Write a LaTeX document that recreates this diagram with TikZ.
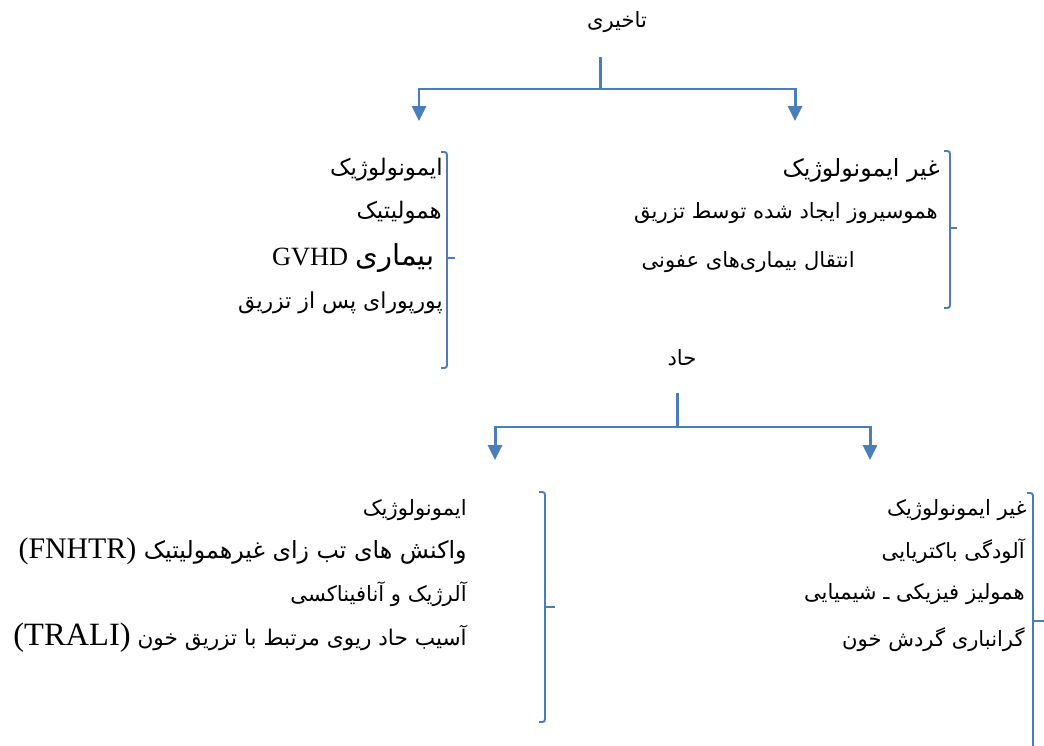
\documentclass[tikz,border=0pt]{standalone}
\usepackage{fontspec}
\setmainfont{Liberation Serif}
\newfontfamily\farsi[Script=Arabic]{DejaVu Sans}
\TeXXeTstate=1
\usetikzlibrary{arrows.meta}
\definecolor{wordblue}{RGB}{74,126,187}
\newcommand{\fatext}[1]{\beginR#1\endR}
\newcommand{\latin}[2][15]{\beginL{\normalfont\fontsize{#1}{#1}\selectfont #2}\endL}
\newcommand{\fasize}[1]{\fontsize{#1}{#1}\selectfont}

\begin{document}
\begin{tikzpicture}[x=0.02cm, y=-0.02cm,
    line/.style={anchor=east, inner sep=0pt, font=\farsi\fontsize{12}{14}\selectfont},
    bigline/.style={line, font=\farsi\fontsize{13}{15}\selectfont},
    head/.style={inner sep=0pt, font=\farsi\fontsize{12}{14}\selectfont},
    tree/.style={wordblue, line width=1.7pt},
    branch/.style={tree, -{Triangle[width=8pt,length=8.5pt]}},
    brace/.style={wordblue, line width=1.1pt, rounded corners=1.5pt}]
  \useasboundingbox (0,0) rectangle (1044,746);

  % تاخیری
  \node[head] (late) at (617,22) {\fatext{تاخیری}};
  \coordinate (lateTop) at (600,57);
  \coordinate (lateBar) at (600,89);
  \coordinate (lateL) at (419,121);
  \coordinate (lateR) at (795,121);
  \draw[tree] (lateTop)--(lateBar);
  \draw[branch] (lateBar) -| (lateL);
  \draw[branch] (lateBar) -| (lateR);

  % ایمونولوژیک (تاخیری)
  \node[bigline] (l1) at (443,170) {\fatext{ایمونولوژیک}};
  \node[bigline] (l2) at (442,213) {\fatext{همولیتیک}};
  \node[bigline] (l3) at (435,258) {\fatext{{\fasize{16.5}بیماری} \latin{GVHD}}};
  \node[line, font=\farsi\fasize{12.5}] (l4) at (443,303) {\fatext{پورپورای پس از تزریق}};
  \draw[brace] (441,152) -- (447,152) -- (447,368) -- (441,368);
  \draw[brace] (447,258) -- (455,258);

  % غیر ایمونولوژیک (تاخیری)
  \node[line, font=\farsi\fasize{13.5}] (r1) at (940,170) {\fatext{غیر ایمونولوژیک}};
  \node[line] (r2) at (938,213) {\fatext{هموسیروز ایجاد شده توسط تزریق}};
  \node[line] (r3) at (855,262) {\fatext{انتقال بیماری‌های عفونی}};
  \draw[brace] (944,151) -- (950,151) -- (950,308) -- (944,308);
  \draw[brace] (950,228) -- (957,228);

  % حاد
  \node[head] (acute) at (682,358) {\fatext{حاد}};
  \coordinate (acuteTop) at (677,393);
  \coordinate (acuteBar) at (677,427);
  \coordinate (acuteL) at (495,460);
  \coordinate (acuteR) at (870,460);
  \draw[tree] (acuteTop)--(acuteBar);
  \draw[branch] (acuteBar) -| (acuteL);
  \draw[branch] (acuteBar) -| (acuteR);

  % ایمونولوژیک (حاد)
  \node[line] (al1) at (467,510) {\fatext{ایمونولوژیک}};
  \node[line, font=\farsi\fasize{13.5}] (al2) at (467,551) {\fatext{واکنش های تب زای غیرهمولیتیک \latin[17]{(FNHTR)}}};
  \node[line] (al3) at (467,594) {\fatext{آلرژیک و آنافیناکسی}};
  \node[line, font=\farsi\fasize{12.3}] (al4) at (467,638) {\fatext{آسیب حاد ریوی مرتبط با تزریق خون \latin[18.5]{(TRALI)}}};
  \draw[brace] (539,492) -- (545,492) -- (545,722) -- (539,722);
  \draw[brace] (545,607) -- (555,607);

  % غیر ایمونولوژیک (حاد)
  \node[line] (ar1) at (1027,510) {\fatext{غیر ایمونولوژیک}};
  \node[line] (ar2) at (1025,551) {\fatext{آلودگی باکتریایی}};
  \node[line] (ar3) at (1025,594) {\fatext{همولیز فیزیکی ـ شیمیایی}};
  \node[line] (ar4) at (1025,640) {\fatext{گرانباری گردش خون}};
  \draw[brace] (1027,493) -- (1033,493) -- (1033,746);
  \draw[brace] (1033,621) -- (1044,621);
\end{tikzpicture}
\end{document}
